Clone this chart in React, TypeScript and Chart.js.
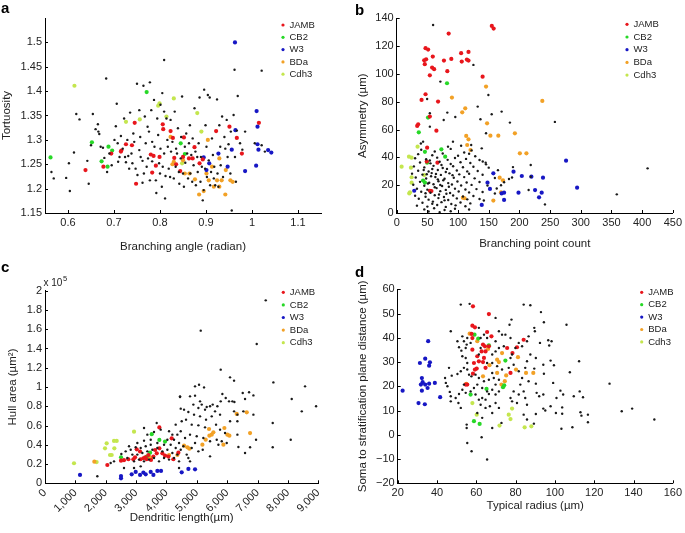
import React, { useEffect, useRef } from "react";
import { Chart, registerables } from "chart.js";

Chart.register(...registerables);

type Pt = [number, number];

const SERIES = ["JAMB", "CB2", "W3", "BDa", "Cdh3"];
const COLORS = ["#e8161c", "#27d827", "#1717c4", "#f2a126", "#c4e64e"];
const OTHER_COLOR = "#1a1a1a";
const FONT = '"Liberation Sans", Arial, Helvetica, sans-serif';
const TEXT = "#222";
const TICK_SIZE = 11;
const TITLE_SIZE = 11.5;

// ---------------- Panel a: Tortuosity vs Branching angle ----------------
const aXTicks = [0.6, 0.7, 0.8, 0.9, 1, 1.1];
const aXLabels = ["0.6", "0.7", "0.8", "0.9", "1", "1.1"];
const aYTicks = [1.15, 1.2, 1.25, 1.3, 1.35, 1.4, 1.45, 1.5];
const aYLabels = ["1.15", "1.2", "1.25", "1.3", "1.35", "1.4", "1.45", "1.5"];
const aOther: Pt[] = [
  [0.564, 1.234], [0.569, 1.221], [0.596, 1.222], [0.604, 1.195], [0.602, 1.252], [0.613, 1.274], [0.618, 1.353],
  [0.625, 1.342], [0.642, 1.257], [0.645, 1.21], [0.65, 1.289], [0.654, 1.353], [0.66, 1.322], [0.665, 1.332],
  [0.666, 1.317], [0.668, 1.312], [0.671, 1.286], [0.676, 1.284], [0.679, 1.263], [0.683, 1.426], [0.685, 1.234],
  [0.69, 1.272], [0.695, 1.248], [0.701, 1.3], [0.704, 1.328], [0.706, 1.374], [0.708, 1.293], [0.709, 1.255],
  [0.712, 1.265], [0.715, 1.308], [0.719, 1.282], [0.722, 1.344], [0.724, 1.265], [0.726, 1.254], [0.729, 1.3],
  [0.731, 1.267], [0.733, 1.241], [0.735, 1.356], [0.738, 1.272], [0.74, 1.252], [0.742, 1.313], [0.744, 1.296],
  [0.747, 1.241], [0.75, 1.415], [0.751, 1.228], [0.755, 1.361], [0.755, 1.279], [0.757, 1.306], [0.758, 1.265],
  [0.762, 1.257], [0.762, 1.212], [0.764, 1.411], [0.765, 1.231], [0.767, 1.348], [0.769, 1.293], [0.771, 1.245],
  [0.773, 1.327], [0.774, 1.262], [0.776, 1.317], [0.778, 1.418], [0.778, 1.217], [0.781, 1.361], [0.783, 1.296],
  [0.783, 1.256], [0.787, 1.382], [0.788, 1.286], [0.791, 1.217], [0.792, 1.191], [0.794, 1.344], [0.796, 1.31],
  [0.798, 1.252], [0.8, 1.231], [0.801, 1.372], [0.801, 1.282], [0.804, 1.204], [0.805, 1.396], [0.806, 1.245],
  [0.809, 1.358], [0.809, 1.272], [0.811, 1.18], [0.812, 1.226], [0.814, 1.344], [0.816, 1.3], [0.817, 1.286],
  [0.819, 1.241], [0.822, 1.224], [0.823, 1.341], [0.824, 1.276], [0.827, 1.296], [0.83, 1.221], [0.832, 1.358],
  [0.834, 1.245], [0.835, 1.282], [0.837, 1.272], [0.839, 1.324], [0.841, 1.234], [0.842, 1.21], [0.845, 1.262],
  [0.846, 1.306], [0.848, 1.389], [0.85, 1.231], [0.852, 1.204], [0.854, 1.286], [0.855, 1.253], [0.857, 1.313],
  [0.859, 1.272], [0.861, 1.221], [0.863, 1.293], [0.865, 1.33], [0.866, 1.231], [0.868, 1.269], [0.87, 1.214],
  [0.871, 1.303], [0.873, 1.248], [0.875, 1.365], [0.877, 1.276], [0.878, 1.207], [0.881, 1.265], [0.882, 1.234],
  [0.884, 1.293], [0.886, 1.387], [0.888, 1.214], [0.889, 1.265], [0.891, 1.245], [0.893, 1.176], [0.895, 1.197],
  [0.896, 1.403], [0.898, 1.241], [0.899, 1.33], [0.901, 1.286], [0.902, 1.224], [0.904, 1.392], [0.906, 1.258],
  [0.908, 1.387], [0.909, 1.207], [0.911, 1.234], [0.913, 1.303], [0.915, 1.269], [0.917, 1.221], [0.918, 1.245],
  [0.92, 1.207], [0.924, 1.383], [0.925, 1.231], [0.927, 1.204], [0.929, 1.33], [0.931, 1.286], [0.932, 1.248],
  [0.935, 1.348], [0.937, 1.224], [0.94, 1.306], [0.942, 1.282], [0.945, 1.341], [0.947, 1.265], [0.949, 1.291],
  [0.953, 1.231], [0.954, 1.317], [0.956, 1.155], [0.96, 1.351], [0.962, 1.444], [0.963, 1.265], [0.965, 1.214],
  [0.967, 1.319], [0.969, 1.39], [0.974, 1.293], [0.979, 1.28], [0.985, 1.317], [1.006, 1.293], [1.021, 1.289],
  [1.028, 1.276], [1.021, 1.442], [0.809, 1.464]
];
const aJamb: Pt[] = [
  [0.638, 1.238], [0.677, 1.245], [0.694, 1.272], [0.715, 1.276], [0.716, 1.278], [0.726, 1.291], [0.739, 1.289],
  [0.745, 1.335], [0.748, 1.21], [0.78, 1.27], [0.786, 1.267], [0.783, 1.233], [0.791, 1.247], [0.799, 1.265],
  [0.806, 1.332], [0.807, 1.322], [0.823, 1.318], [0.831, 1.263], [0.828, 1.304], [0.835, 1.25], [0.844, 1.236],
  [0.852, 1.305], [0.85, 1.265], [0.863, 1.262], [0.871, 1.262], [0.875, 1.285], [0.886, 1.252], [0.893, 1.26],
  [0.922, 1.318], [0.951, 1.327], [0.967, 1.304], [0.978, 1.272], [1.015, 1.335]
];
const aCb2: Pt[] = [
  [0.562, 1.264], [0.652, 1.295], [0.673, 1.256], [0.688, 1.286], [0.696, 1.278], [0.686, 1.245], [0.771, 1.398],
  [0.845, 1.293], [0.854, 1.271]
];
const aW3: Pt[] = [
  [0.963, 1.5], [0.964, 1.32], [0.956, 1.28], [0.947, 1.245], [0.927, 1.272], [0.895, 1.264], [0.901, 1.238],
  [0.907, 1.252], [0.985, 1.236], [1.009, 1.247], [1.01, 1.359], [1.012, 1.327], [1.012, 1.291], [1.014, 1.28],
  [1.035, 1.279], [1.042, 1.274]
];
const aBda: Pt[] = [
  [0.823, 1.306], [0.827, 1.25], [0.83, 1.255], [0.85, 1.258], [0.854, 1.231], [0.864, 1.231], [0.876, 1.219],
  [0.885, 1.188], [0.895, 1.195], [0.901, 1.231], [0.906, 1.217], [0.913, 1.245], [0.917, 1.204], [0.929, 1.262],
  [0.924, 1.217], [0.934, 1.217], [0.943, 1.238], [0.953, 1.217], [0.958, 1.214], [0.942, 1.188], [0.904, 1.3],
  [0.929, 1.204]
];
const aCdh3: Pt[] = [
  [0.614, 1.411], [0.726, 1.337], [0.756, 1.342], [0.799, 1.375], [0.796, 1.37], [0.83, 1.385], [0.814, 1.348],
  [0.881, 1.355], [0.89, 1.317], [0.848, 1.252]
];

// ---------------- Panel b: Asymmetry vs Branching point count ----------------
const bXTicks = [0, 50, 100, 150, 200, 250, 300, 350, 400, 450];
const bXLabels = ["0", "50", "100", "150", "200", "250", "300", "350", "400", "450"];
const bYTicks = [0, 20, 40, 60, 80, 100, 120, 140];
const bYLabels = ["0", "20", "40", "60", "80", "100", "120", "140"];
const bOther: Pt[] = [
  [40, 45.5], [62, 44.2], [88, 46.1], [110, 43.5], [122, 45], [35, 42.3], [58, 41.5], [75, 42.8], [100, 41.2],
  [118, 42.6], [128, 40.8], [30, 39.4], [48, 38.6], [66, 39.8], [83, 38.2], [95, 39.5], [113, 38.9], [135, 38.1],
  [38, 36.3], [55, 35.7], [70, 36.8], [88, 35.2], [104, 36.5], [120, 35.9], [145, 36.2], [28, 33.5], [45, 32.8],
  [60, 33.9], [75, 32.4], [92, 33.6], [108, 32.9], [125, 33.3], [150, 32.6], [35, 30.4], [52, 29.8], [67, 30.9],
  [80, 29.5], [98, 30.6], [115, 29.9], [132, 30.2], [165, 30.8], [25, 28.3], [42, 27.6], [57, 28.7], [72, 27.4],
  [86, 28.5], [102, 27.8], [118, 28.2], [140, 27.5], [31, 25.5], [48, 24.8], [63, 25.9], [78, 24.6], [93, 25.3],
  [110, 25.8], [127, 24.9], [160, 25.2], [188, 25.5], [38, 22.4], [53, 21.7], [68, 22.8], [84, 21.5], [99, 22.6],
  [114, 21.9], [135, 22.3], [175, 22.1], [27, 20.3], [45, 19.6], [60, 20.7], [74, 19.4], [90, 20.5], [105, 19.8],
  [122, 20.2], [148, 19.7], [33, 17.4], [50, 16.8], [65, 17.9], [80, 16.6], [95, 17.5], [112, 16.9], [130, 17.2],
  [163, 17.6], [40, 15.3], [55, 14.6], [71, 15.7], [87, 14.4], [101, 15.5], [118, 14.8], [140, 15.1], [215, 16.5],
  [30, 12.4], [47, 11.7], [62, 12.8], [77, 11.5], [92, 12.6], [108, 11.9], [125, 12.2], [36, 10.3], [52, 9.6],
  [68, 10.7], [84, 9.4], [98, 10.5], [115, 9.8], [135, 10.1], [42, 7.4], [58, 6.7], [73, 7.8], [89, 6.5],
  [104, 7.6], [120, 6.9], [33, 5.3], [50, 4.6], [66, 5.7], [80, 4.4], [96, 5.5], [112, 4.8], [45, 2.6], [61, 3.4],
  [78, 2.2], [95, 3.1], [118, 2.5], [52, 1.1], [70, 0.6], [88, 1.3], [44, 30.9], [56, 26.4], [62, 18.5],
  [69, 13.3], [76, 23.6], [82, 31.7], [51, 21.2], [59, 8.2], [73, 34.5], [85, 18.9], [47, 14.2], [64, 28.1],
  [78, 9.1], [91, 27.2], [54, 37.8], [67, 24.2], [81, 13.8], [58, 31.6], [49, 27.9], [71, 20.1],
  [59.3, 135.2], [125, 106.5], [71.2, 94.5], [149.4, 84.9], [49.6, 82], [132, 76.5], [171, 72.9], [82.5, 72.2],
  [54, 71.7], [95.5, 69], [154.8, 71], [76.6, 66.9], [54, 62.1], [184.5, 65], [136.5, 67.4], [145.6, 57.3],
  [105, 48.4], [91.7, 51.3], [83.6, 47.7], [121.4, 48.9], [43, 51.3], [39.4, 50], [138.6, 46.5], [140.2, 37],
  [145.6, 35], [218.4, 34.5], [257.8, 65.5], [218.4, 26.1], [241.6, 6.2], [358.7, 13.4], [408.9, 32.1],
  [189.5, 33], [183, 24.5], [160, 14], [142, 9], [170, 20]
];
const bJamb: Pt[] = [
  [155, 134.5], [158, 132.6], [84.7, 129], [47, 118.5], [51.2, 117.5], [105, 114.9], [117, 115.8], [58.8, 112.5],
  [44.8, 109.8], [48, 110.5], [45.8, 107], [77, 109.6], [89, 110.8], [114.4, 110.3], [117, 109.6], [106, 108.9],
  [57.7, 104.6], [61, 103.4], [54, 99], [82.5, 102], [140, 98], [47, 85.4], [40.5, 81.3], [67.4, 80.1],
  [54, 69.3], [35, 63.8], [33.4, 62.6], [64.7, 59.2], [49.6, 47], [49, 37], [66.4, 36.2], [54, 16], [56.6, 15.8]
];
const bCb2: Pt[] = [
  [82, 93.3], [51, 68.6], [36, 58], [46, 44], [72.8, 45.8], [79, 40.5], [49.6, 36.2], [43, 23.3], [46, 21.8]
];
const bW3: Pt[] = [
  [28.6, 16], [157.5, 28.5], [148, 21.8], [152, 17.3], [138.6, 5.8], [171, 14.1], [175, 14.6], [175, 9.4],
  [190.4, 29.7], [203.9, 26.6], [198.5, 14.6], [219.5, 26.1], [276, 37.6], [238.4, 25.4], [294, 18.2],
  [225.5, 16.5], [236.3, 14.6], [232, 11.3]
];
const bBda: Pt[] = [
  [145.6, 90.9], [90, 83], [111.7, 75.3], [106.8, 72.4], [147.3, 64.5], [152.7, 55.6], [165.6, 55.6],
  [192.6, 57.3], [113.3, 55.4], [117, 53], [114.9, 48.9], [120.3, 45.3], [200.7, 42.9], [211.4, 42.9],
  [167.8, 25.4], [173.2, 23.5], [170, 14.9], [157.5, 8.9], [110.6, 10.6], [107.9, 11], [237.3, 80.6]
];
const bCdh3: Pt[] = [
  [8, 33.3], [20, 40.5], [24.3, 39.8], [23.2, 32.6], [24.3, 25.7], [24.3, 21.8], [20.5, 14.1], [34, 47.7],
  [44.8, 27.3], [21.6, 14.9]
];

// ---------------- Panel c: Hull area (x 10^5 µm²) vs Dendritic length ----------------
const cXTicks = [0, 1000, 2000, 3000, 4000, 5000, 6000, 7000, 8000, 9000];
const cXLabels = ["0", "1,000", "2,000", "3,000", "4,000", "5,000", "6,000", "7,000", "8,000", "9,000"];
const cYTicks = [0, 0.2, 0.4, 0.6, 0.8, 1, 1.2, 1.4, 1.6, 1.8, 2];
const cYLabels = ["0", "0.2", "0.4", "0.6", "0.8", "1", "1.2", "1.4", "1.6", "1.8", "2"];
const cOther: Pt[] = [
  [7269, 1.9], [5128, 1.585], [6972, 1.446], [5786, 1.18], [6094, 1.1], [6226, 1.066], [7521, 1.048],
  [8564, 1.007], [4941, 1.007], [5073, 1.024], [5238, 0.996], [4447, 0.903], [4941, 0.91], [5841, 0.927],
  [5951, 0.886], [6061, 0.851], [6171, 0.851], [6237, 0.844], [6511, 0.938], [6720, 0.945], [6863, 0.913],
  [5677, 0.8], [5786, 0.851], [5523, 0.817], [5435, 0.8], [5325, 0.792], [5106, 0.851], [5161, 0.817],
  [6588, 0.875], [8125, 0.875], [8455, 0.747], [8927, 0.8], [7499, 0.626], [6863, 0.713], [6336, 0.713],
  [6336, 0.644], [6533, 0.747], [6226, 0.747], [6094, 0.644], [5765, 0.713], [5600, 0.747], [5490, 0.695],
  [5270, 0.765], [4776, 0.903], [4886, 0.817], [5051, 0.782], [4579, 0.765], [4721, 0.74], [4908, 0.713],
  [5106, 0.695], [5303, 0.661], [4645, 0.661], [4502, 0.644], [4831, 0.609], [5051, 0.602], [5270, 0.581],
  [5633, 0.609], [5765, 0.557], [5929, 0.522], [5655, 0.453], [5820, 0.436], [5984, 0.419], [5435, 0.436],
  [5215, 0.47], [4996, 0.488], [4776, 0.505], [4612, 0.47], [4941, 0.419], [4557, 0.384], [4667, 0.298],
  [4721, 0.263], [4776, 0.228], [4831, 0.367], [5051, 0.332], [5194, 0.349], [5435, 0.28], [5710, 0.401],
  [6336, 0.505], [6369, 0.377], [6588, 0.315], [6753, 0.374], [6950, 0.453], [8092, 0.453], [7499, 0.374],
  [4447, 0.896], [4469, 0.775], [3678, 0.626], [3261, 0.574], [3371, 0.505], [3590, 0.533], [3810, 0.557],
  [4194, 0.505], [4304, 0.609], [4085, 0.54], [4359, 0.505], [4030, 0.453], [4249, 0.453], [4414, 0.419],
  [3920, 0.401], [4139, 0.401], [4304, 0.367], [4469, 0.349], [3700, 0.419], [3481, 0.401], [3316, 0.384],
  [3151, 0.367], [2987, 0.374], [2822, 0.349], [2657, 0.332], [2514, 0.304], [2273, 0.228], [2163, 0.211],
  [3041, 0.298], [3206, 0.315], [3371, 0.332], [3536, 0.349], [3700, 0.367], [3865, 0.332], [4030, 0.349],
  [4194, 0.315], [4359, 0.298], [2877, 0.298], [2712, 0.263], [2932, 0.228], [3096, 0.246], [3261, 0.228],
  [3426, 0.246], [3590, 0.263], [3755, 0.228], [3920, 0.263], [4085, 0.246], [4249, 0.263], [4414, 0.228],
  [2932, 0.159], [3151, 0.176], [2602, 0.159], [4414, 0.159], [1724, 0.073], [4469, 0.54], [3481, 0.453],
  [3261, 0.443], [3041, 0.419], [2767, 0.384]
];
const cJamb: Pt[] = [
  [2053, 0.19], [2503, 0.235], [2745, 0.25], [2910, 0.25], [2965, 0.27], [3020, 0.353], [3130, 0.33],
  [3240, 0.26], [3350, 0.25], [3404, 0.294], [3490, 0.242], [3570, 0.277], [3624, 0.346], [3680, 0.311],
  [3766, 0.363], [3766, 0.58], [3865, 0.311], [3953, 0.287], [4063, 0.277], [4172, 0.467], [4227, 0.25],
  [4392, 0.318], [3150, 0.25], [3300, 0.27], [2600, 0.24]
];
const cCb2: Pt[] = [
  [2503, 0.27], [3514, 0.51], [3766, 0.45], [3953, 0.433], [3460, 0.318], [3350, 0.277]
];
const cW3: Pt[] = [
  [1153, 0.087], [2503, 0.076], [2503, 0.052], [2855, 0.093], [2987, 0.118], [3130, 0.087], [3240, 0.111],
  [3316, 0.093], [3481, 0.118], [3570, 0.087], [3700, 0.128], [3821, 0.128], [4502, 0.114], [4722, 0.149],
  [4941, 0.145]
];
const cBda: Pt[] = [
  [1625, 0.225], [3426, 0.277], [3481, 0.26], [4085, 0.294], [4359, 0.294], [4580, 0.391], [4689, 0.374],
  [4755, 0.36], [5183, 0.401], [5292, 0.453], [5402, 0.564], [5413, 0.495], [5490, 0.505], [5545, 0.529],
  [5875, 0.401], [5908, 0.574], [6006, 0.505], [6072, 0.495], [6313, 0.72], [6643, 0.737], [6753, 0.522]
];
const cCdh3: Pt[] = [
  [955, 0.208], [1700, 0.22], [1976, 0.363], [2031, 0.415], [2141, 0.294], [2196, 0.294], [2273, 0.44],
  [2361, 0.44], [2284, 0.363], [2932, 0.536]
];

// ---------------- Panel d: Soma to stratification plane distance vs Typical radius ----------------
const dXTicks = [20, 40, 60, 80, 100, 120, 140, 160];
const dXLabels = ["20", "40", "60", "80", "100", "120", "140", "160"];
const dYTicks = [-20, -10, 0, 10, 20, 30, 40, 50, 60];
const dYLabels = ["\u221220", "\u221210", "0", "10", "20", "30", "40", "50", "60"];
const dOther: Pt[] = [
  [92.9, 50.6], [94.4, 46.4], [105.9, 45.4], [89.5, 44.1], [89.8, 42.7], [96.6, 39], [98.3, 38.6], [92.4, 37.9],
  [97.1, 36.8], [90.3, 31.7], [97.8, 30.6], [112.3, 30.3], [94.1, 28.9], [99.5, 28.7], [89.5, 27.3], [107.6, 25.8],
  [94.4, 25.2], [127.8, 21.1], [90.3, 21.1], [99.1, 21.4], [90.7, 17.3], [92, 15.9], [94.1, 16.6], [102.8, 18.2],
  [112.6, 17.9], [97.8, 11.8], [100.8, 15.2], [104.2, 16.6], [109.6, 15.9], [114.3, 15.5], [94.1, 10.8],
  [90.3, 8.6], [95.1, 10], [100.5, 9], [103.7, 11.3], [103.7, 8.7], [113, 9.3], [113.5, 7.9], [116.8, 8.3],
  [116.8, 5.2], [89.3, 4.6], [103.3, 2.5], [108.9, 3.1], [139.3, 10.8], [134, 9.7], [150.6, 6.3],
  [52.1, 53.7], [56.6, 54], [47, 42.7], [50.4, 38.6], [51.2, 36.1], [52.4, 34.7], [53.7, 38.6], [55.1, 37.2],
  [52.9, 32.4], [54.6, 31.7], [55.4, 29.6], [53.7, 27.6], [52.1, 26.2], [50.4, 25.1], [55.4, 26.9], [56.3, 24.8],
  [57.5, 24.1], [46.1, 27.6], [47.5, 24.4], [44.1, 23.4], [44.5, 21.4], [45.3, 20], [46.5, 17.7], [47, 15.9],
  [47, 13.8], [49.5, 15.2], [51.2, 16.8], [50.9, 13.1], [52.1, 11.1], [52.9, 18.6], [53.7, 20.7], [54.6, 17.3],
  [55.1, 2.8], [55.4, -3.4], [57.6, -6.8], [55.1, 4.2], [62.7, -1], [65.5, -10.2], [62.2, 12.4], [63, 15.2],
  [64.7, 11.1], [66.9, 11.8], [68.1, 9], [69.8, 13.1], [71.5, 11.1], [72.8, 4.9], [68.1, 2.8], [63, 7],
  [60.5, 9], [63, 19.3], [65.5, 17.9], [68.1, 18.6], [69.8, 16.6], [71.5, 17.9], [77.4, 15.2], [79, 17.9],
  [78.2, 13.8], [81.6, 16.6], [80.7, 13.1], [84.1, 17.9], [84.9, 15.2], [85.8, 12.4], [84.1, 8.3], [85.8, 6.3],
  [82.4, 20.7], [83.3, 23.4], [86.6, 22.1], [81.6, 26.2], [84.9, 27.6], [85.8, 30.3], [87.5, 33.1], [79, 28.9],
  [76.5, 27.6], [77.4, 31.7], [78.2, 33.1], [79.9, 35.8], [81.6, 37.9], [83.3, 36.5], [85.8, 38.6], [86.6, 40.6],
  [77.4, 39.9], [74.8, 41.3], [73.1, 41.3], [77.9, 47.5], [76.9, 45.4], [84.1, 53.7], [87.5, 53.4], [69.8, 48.2],
  [71.5, 42.7], [69.8, 38.6], [69.8, 34.4], [68.1, 33.1], [70.6, 28.3], [73.1, 26.9], [68.1, 25.5], [68.9, 23.4],
  [71.5, 22.7], [69.8, 20.7], [66.4, 22.7], [63.9, 22.1], [61.3, 23.4], [60.5, 20.7], [58.8, 19.3], [57.1, 17.9],
  [59.6, 16.6], [61.3, 14.5], [64.7, 14.5], [66.4, 16.8], [54.6, 35.8], [57.1, 37.9], [55.4, 39.9], [52.9, 40.6],
  [61.3, 44.1], [65.5, 39.9], [63.9, 41.3], [62.2, 39.9], [62.2, 35.8], [61.3, 33.1], [59.6, 24.8], [65.5, 29.6],
  [68.1, 29.6], [71.5, 35.8], [74, 36.5]
];
const dJamb: Pt[] = [
  [58.3, 53], [66.4, 49.8], [58, 45], [59.3, 44.3], [57.6, 41.6], [65.5, 42.4], [67.7, 40.6], [58, 39.9],
  [63.4, 37.2], [64.4, 36.5], [66.4, 36.5], [58, 35.1], [62.7, 34.4], [64.7, 34.4], [60.5, 32.4], [63.9, 31.7],
  [58.8, 29.6], [61.3, 30.3], [63.4, 30], [60.2, 27.3], [64.7, 27.6], [58.3, 25.2], [59.3, 26.9], [55.4, 20.7],
  [54.6, 20.7], [78.4, 33.7], [75.7, 35.8], [84.1, 39.2], [77.4, 25.5], [80.7, 36.1]
];
const dCb2: Pt[] = [
  [59.1, 41.3], [61, 39.7], [66.4, 36.9], [74.8, 30.6], [74.2, 20.4], [73.6, 19.6], [65.2, 18.9], [57.1, 16.6],
  [58.8, 5.6], [61.7, 4.5]
];
const dW3: Pt[] = [
  [22.5, 18.2], [30.6, 13.1], [33.8, 12.6], [31.3, 29.6], [35.5, 38.6], [34, 31.4], [36.4, 29.9], [36, 28.5],
  [32.3, 23.4], [32.7, 21.7], [31.8, 20.7], [34, 20.7], [36, 21.1], [38.9, 21.4], [35.2, 19.3], [32.3, 18.2],
  [41.6, 15.5]
];
const dBda: Pt[] = [
  [56.6, 41.7], [60.5, 38.6], [66, 35.4], [66.7, 28.7], [63.4, 24.1], [70.6, 31], [71.5, 30], [73.1, 33.7],
  [75.2, 24.5], [74.5, 22.1], [72.8, 20.7], [70.6, 25.5], [80.2, 26.9], [81.2, 32], [54.9, 21], [85.3, 25.5],
  [89, 25.5]
];
const dCdh3: Pt[] = [
  [60.2, 8.3], [58, 13.1], [71.8, 3.8], [76.5, 8.3], [78.2, 10.8], [84.6, 3.1], [88, 3.5], [77.4, 6.5]
];

// ---------------- Panel layout (page pixels) ----------------
type Panel = {
  box: [number, number, number, number];
  area: [number, number, number, number];
  yTitleX: number;
  xTitleY: number;
  letter: string;
  letterPos: [number, number];
  legend: [number, number, number];
  exponent?: [number, number];
  xMin: number; xMax: number; yMin: number; yMax: number;
  xTicks: number[]; xLabels: string[]; yTicks: number[]; yLabels: string[];
  xRot: number;
  xTitle: string; yTitle: string;
  other: Pt[]; series: Pt[][];
};

const PANELS: Panel[] = [
  {
    box: [0, 0, 342, 262], area: [45, 18, 321, 213], yTitleX: 7.2, xTitleY: 246.7,
    letter: "a", letterPos: [1, 13.3], legend: [283, 25, 12.3],
    xMin: 0.55, xMax: 1.15, yMin: 1.15, yMax: 1.55,
    xTicks: aXTicks, xLabels: aXLabels, yTicks: aYTicks, yLabels: aYLabels, xRot: 0,
    xTitle: "Branching angle (radian)", yTitle: "Tortuosity",
    other: aOther, series: [aJamb, aCb2, aW3, aBda, aCdh3]
  },
  {
    box: [342, 0, 343, 262], area: [396.7, 18.3, 674, 213], yTitleX: 363, xTitleY: 244.3,
    letter: "b", letterPos: [355, 15], legend: [627, 24.3, 12.7],
    xMin: 0, xMax: 450, yMin: 0, yMax: 140,
    xTicks: bXTicks, xLabels: bXLabels, yTicks: bYTicks, yLabels: bYLabels, xRot: 0,
    xTitle: "Branching point count", yTitle: "Asymmetry (\u00b5m)",
    other: bOther, series: [bJamb, bCb2, bW3, bBda, bCdh3]
  },
  {
    box: [0, 262, 342, 271], area: [45, 290.7, 318.3, 483.3], yTitleX: 13, xTitleY: 518.3,
    letter: "c", letterPos: [1, 272], legend: [283.3, 292.3, 12.6], exponent: [43.5, 285.5],
    xMin: 0, xMax: 9000, yMin: 0, yMax: 2,
    xTicks: cXTicks, xLabels: cXLabels, yTicks: cYTicks, yLabels: cYLabels, xRot: 45,
    xTitle: "Dendritic length(\u00b5m)", yTitle: "Hull area (\u00b5m\u00b2)",
    other: cOther, series: [cJamb, cCb2, cW3, cBda, cCdh3]
  },
  {
    box: [342, 262, 343, 271], area: [397.7, 289.3, 674.3, 483.3], yTitleX: 362.5, xTitleY: 506,
    letter: "d", letterPos: [355, 276.7], legend: [641.7, 292.3, 12.4],
    xMin: 20, xMax: 160, yMin: -20, yMax: 60,
    xTicks: dXTicks, xLabels: dXLabels, yTicks: dYTicks, yLabels: dYLabels, xRot: 0,
    xTitle: "Typical radius (\u00b5m)", yTitle: "Soma to stratification plane distance (\u00b5m)",
    other: dOther, series: [dJamb, dCb2, dW3, dBda, dCdh3]
  }
];

const decoPlugin = {
  id: "deco",
  afterDraw(chart: any, _args: any, opts: any) {
    const ctx = chart.ctx as CanvasRenderingContext2D;
    const ox = opts.ox, oy = opts.oy;
    const area = chart.chartArea;
    const xs = chart.scales.x, ys = chart.scales.y;
    ctx.save();
    // inward tick marks (MATLAB style)
    ctx.strokeStyle = "#000";
    ctx.lineWidth = 1;
    ctx.beginPath();
    for (const v of opts.xTicks as number[]) {
      const px = Math.round(xs.getPixelForValue(v)) + 0.5;
      ctx.moveTo(px, area.bottom);
      ctx.lineTo(px, area.bottom - 3);
    }
    for (const v of opts.yTicks as number[]) {
      const py = Math.round(ys.getPixelForValue(v)) + 0.5;
      ctx.moveTo(area.left, py);
      ctx.lineTo(area.left + 3, py);
    }
    ctx.stroke();
    ctx.fillStyle = "#000";
    ctx.textAlign = "left";
    ctx.textBaseline = "alphabetic";
    ctx.font = `bold 15px ${FONT}`;
    ctx.fillText(opts.letter, opts.letterPos[0] - ox, opts.letterPos[1] - oy);
    if (opts.exponent) {
      ctx.fillStyle = TEXT;
      ctx.font = `10px ${FONT}`;
      const ex = opts.exponent[0] - ox, ey = opts.exponent[1] - oy;
      ctx.fillText("x 10", ex, ey);
      const w = ctx.measureText("x 10").width;
      ctx.font = `7.5px ${FONT}`;
      ctx.fillText("5", ex + w + 0.5, ey - 5);
    }
    ctx.font = `9.5px ${FONT}`;
    ctx.textBaseline = "middle";
    const [lx, ly, step] = opts.legend;
    SERIES.forEach((name, i) => {
      const y = ly - oy + i * step;
      ctx.fillStyle = COLORS[i];
      ctx.beginPath();
      ctx.arc(lx - ox, y, 1.6, 0, Math.PI * 2);
      ctx.fill();
      ctx.fillStyle = TEXT;
      ctx.fillText(name, lx - ox + 6.5, y);
    });
    ctx.restore();
  }
};

function buildConfig(p: Panel): any {
  const [bx, by, bw, bh] = p.box;
  const [al, at, ar, ab] = p.area;
  const half = (TITLE_SIZE * 1.2) / 2;
  const padLeft = p.yTitleX - bx - half;
  const yWidth = al - bx - padLeft;
  const padTop = at - by;
  const padRight = bx + bw - ar;
  const padBottom = by + bh - p.xTitleY - half;
  const xHeight = by + bh - padBottom - ab;
  const groups = [p.other, ...p.series];
  const datasets = groups.map((pts, gi) => ({
    label: gi === 0 ? "Other" : SERIES[gi - 1],
    data: pts.map(([x, y]) => ({ x, y })),
    pointRadius: gi === 0 ? 1.2 : 2.1,
    pointHoverRadius: gi === 0 ? 1.2 : 2.1,
    pointBackgroundColor: gi === 0 ? OTHER_COLOR : COLORS[gi - 1],
    pointBorderWidth: 0,
    borderWidth: 0,
    showLine: false
  }));
  const tickFont = { family: FONT, size: TICK_SIZE };
  const titleFont = { family: FONT, size: TITLE_SIZE };
  return {
    type: "scatter",
    data: { datasets },
    options: {
      animation: false,
      responsive: false,
      devicePixelRatio: 1,
      events: [],
      layout: { padding: { left: padLeft, top: padTop, right: padRight, bottom: padBottom } },
      plugins: {
        legend: { display: false },
        tooltip: { enabled: false },
        deco: {
          ox: bx, oy: by, letter: p.letter, letterPos: p.letterPos, legend: p.legend,
          exponent: p.exponent, xTicks: p.xTicks, yTicks: p.yTicks
        }
      },
      scales: {
        x: {
          type: "linear", position: "bottom", min: p.xMin, max: p.xMax, bounds: "data",
          grid: { display: false, drawTicks: false },
          border: { display: true, color: "#000", width: 1 },
          afterBuildTicks: (s: any) => { s.ticks = p.xTicks.map((v) => ({ value: v })); },
          afterFit: (s: any) => { s.height = xHeight; },
          ticks: {
            autoSkip: false, padding: 3, color: TEXT, font: tickFont,
            minRotation: p.xRot, maxRotation: p.xRot,
            callback: (_v: any, i: number) => p.xLabels[i]
          },
          title: { display: true, text: p.xTitle, color: TEXT, font: titleFont, padding: 0 }
        },
        y: {
          type: "linear", position: "left", min: p.yMin, max: p.yMax, bounds: "data",
          grid: { display: false, drawTicks: false },
          border: { display: true, color: "#000", width: 1 },
          afterBuildTicks: (s: any) => { s.ticks = p.yTicks.map((v) => ({ value: v })); },
          afterFit: (s: any) => { s.width = yWidth; },
          ticks: {
            autoSkip: false, padding: 3, color: TEXT, font: tickFont,
            callback: (_v: any, i: number) => p.yLabels[i]
          },
          title: { display: true, text: p.yTitle, color: TEXT, font: titleFont, padding: 0 }
        }
      }
    },
    plugins: [decoPlugin]
  };
}

export default function App() {
  const r0 = useRef<HTMLCanvasElement>(null);
  const r1 = useRef<HTMLCanvasElement>(null);
  const r2 = useRef<HTMLCanvasElement>(null);
  const r3 = useRef<HTMLCanvasElement>(null);
  const refs = [r0, r1, r2, r3];
  useEffect(() => {
    const charts = PANELS.map((p, i) => new Chart(refs[i].current as HTMLCanvasElement, buildConfig(p)));
    return () => charts.forEach((c) => c.destroy());
  }, []);
  return (
    <div style={{ position: "fixed", left: 0, top: 0, width: 685, height: 533, background: "#fff", overflow: "hidden" }}>
      {PANELS.map((p, i) => (
        <canvas
          key={i}
          ref={refs[i]}
          width={p.box[2]}
          height={p.box[3]}
          style={{ position: "absolute", left: p.box[0], top: p.box[1], width: p.box[2], height: p.box[3] }}
        />
      ))}
    </div>
  );
}
